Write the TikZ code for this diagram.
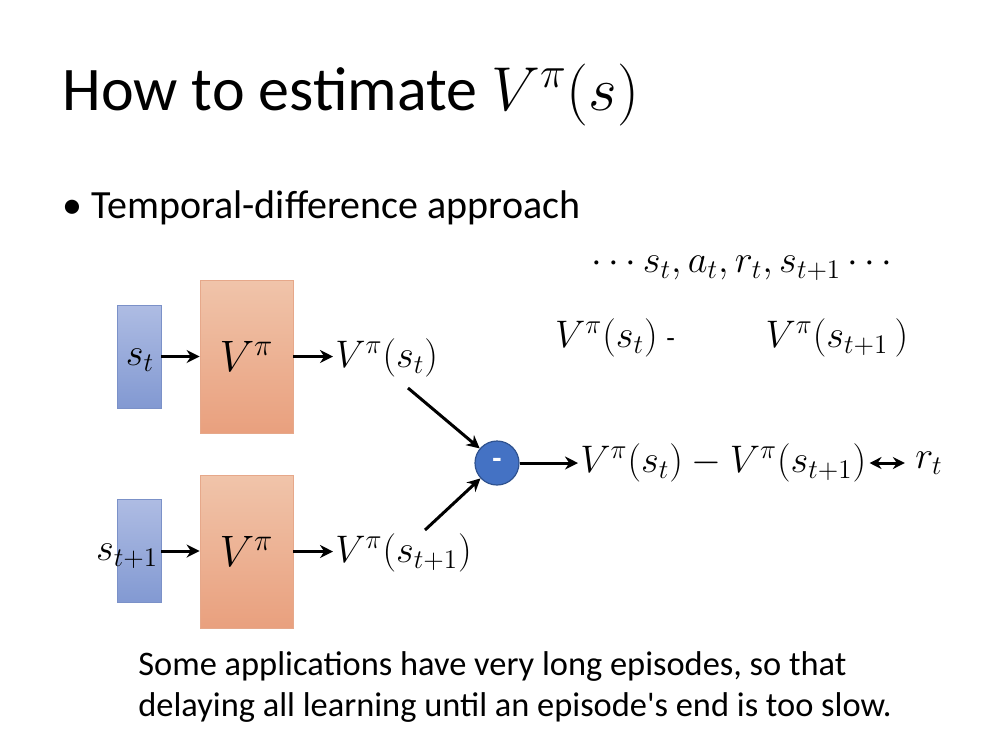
\RequirePackage{fix-cm}
\documentclass[tikz,border=0pt]{standalone}
\usepackage{fontspec}
\setmainfont{Carlito}
\usetikzlibrary{arrows.meta}
\definecolor{bluetop}{HTML}{AEBCE3}
\definecolor{bluebot}{HTML}{8299D2}
\definecolor{blueborder}{HTML}{7B91C8}
\definecolor{ortop}{HTML}{F0C4AA}
\definecolor{orbot}{HTML}{E9A07E}
\definecolor{orborder}{HTML}{E6A88A}
\definecolor{circfill}{HTML}{4472C4}
\definecolor{circborder}{HTML}{2F528F}
\begin{document}
\begin{tikzpicture}[x=0.5pt,y=-0.5pt,
  mth/.style={font=\fontsize{19.2}{23}\selectfont, inner sep=1pt},
  sbox/.style={draw=blueborder, top color=bluetop, bottom color=bluebot, minimum width=22pt, minimum height=51.5pt, inner sep=0pt},
  vbox/.style={draw=orborder, top color=ortop, bottom color=orbot, minimum width=46.5pt, minimum height=76.5pt, inner sep=0pt, font=\fontsize{22}{26}\selectfont},
  arr/.style={-{Stealth[length=6.5pt,width=6.5pt]}, line width=1.5pt},
  darr/.style={{Stealth[length=6pt,width=6pt]}-{Stealth[length=6pt,width=6pt]}, line width=1.5pt},
  note/.style={anchor=base west, inner sep=0pt, font=\fontsize{17.2}{21}\selectfont}]
\useasboundingbox (0,0) rectangle (1000,746);
% title
\node[anchor=base west, inner sep=0pt] (title) at (62,110) {\fontsize{31}{36}\selectfont How to estimate $V^\pi(s)$};
\node[anchor=base west, inner sep=0pt] (bullet) at (62,218) {\fontsize{20}{24}\selectfont \textbullet\ Temporal-difference approach};
% top sequence
\node[mth] (seq) at (742,268) {$\cdots s_t,a_t,r_t,s_{t+1}\cdots$};
\node[mth] (va) at (615,338) {$V^\pi(s_t)$ \fontsize{14}{16}\selectfont -};
\node[mth] (vb) at (837,338) {$V^\pi(s_{t+1}\,)$};
% upper branch
\node[sbox] (s1) at (139,356.5) {};
\node[mth] (s1l) at (140,360) {$s_t$};
\node[vbox] (v1) at (246.5,356.5) {$V^\pi$};
\node[mth, anchor=west] (o1) at (333,358) {$V^\pi(s_t)$};
\draw[arr] (s1.east) -- (v1.west |- s1.east);
\draw[arr] (v1.east) -- (v1.east -| o1.west);
% lower branch
\node[sbox] (s2) at (139,551) {};
\node[mth] (s2l) at (127,556) {$s_{t+1}$};
\node[vbox] (v2) at (246.5,551.5) {$V^\pi$};
\node[mth, anchor=west] (o2) at (333,553) {$V^\pi(s_{t+1})$};
\draw[arr] (s2.east) -- (v2.west |- s2.east);
\draw[arr] (v2.east) -- (v2.east -| o2.west);
% minus circle
\node[circle, fill=circfill, draw=circborder, line width=0.6pt, minimum size=22pt, inner sep=0pt, text=white, font=\fontsize{15}{16}\selectfont\bfseries] (c) at (497,463) {\raisebox{-1.2pt}{-}};
\coordinate (a1) at (408,388);
\coordinate (a2) at (425,530);
\draw[arr] (a1) -- (c);
\draw[arr] (a2) -- (c);
% difference
\node[mth, anchor=west] (d) at (578,463) {$V^\pi(s_t)-V^\pi(s_{t+1})$};
\node[mth] (r) at (929,463) {$r_t$};
\draw[arr] (c) -- (d.west);
\draw[darr] ([xshift=0.5pt]d.east) -- ([xshift=-4pt]r.west);
% bottom text
\node[note] (note1) at (138,675) {Some applications have very long episodes, so that};
\node[note] (note2) at (138,716) {delaying all learning until an episode\textquotesingle s end is too slow.};
\end{tikzpicture}
\end{document}
